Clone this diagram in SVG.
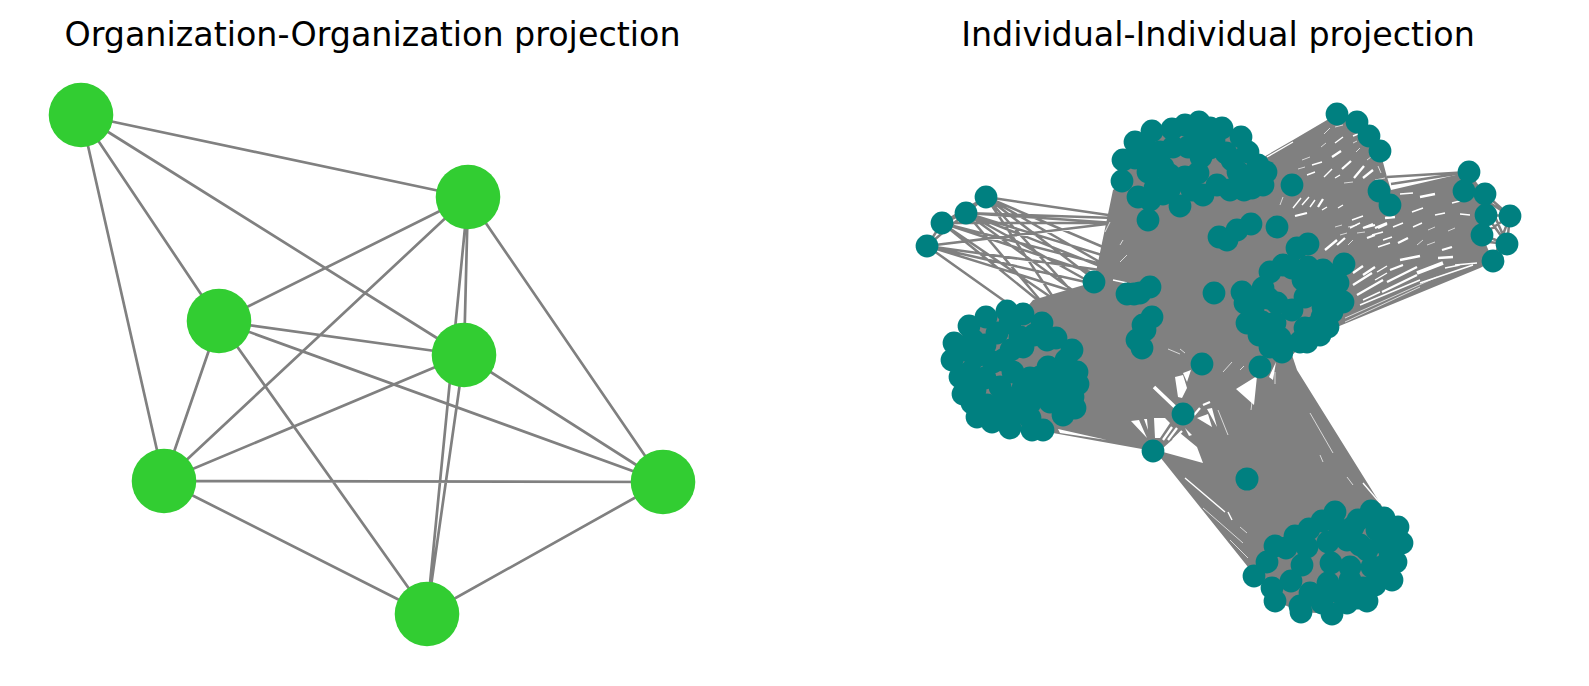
<svg xmlns="http://www.w3.org/2000/svg" width="1589" height="686" viewBox="0 0 1589 686">
<style>
text{font-family:"DejaVu Sans",sans-serif;font-size:33.33px;fill:#000;text-anchor:middle}
.e{stroke:#808080;fill:none}.l{stroke-width:2.7}.r{stroke-width:2.5}
.m{fill:#808080;stroke:none}
.h{fill:#fff;stroke:none}
.s{stroke:#fff;fill:none}.w1{stroke-width:.7}.w2{stroke-width:1.4}.w3{stroke-width:2.3}.w4{stroke-width:3.6}
.o{fill:#32cd32}.t{fill:#008080}
</style>
<rect width="1589" height="686" fill="#fff"/>
<text x="372.5" y="46">Organization-Organization projection</text>
<text x="1218" y="46">Individual-Individual projection</text>
<g id="connectors">
<path class="e l" d="M81 115L468 197M81 115L219 321M81 115L464 355M81 115L164 481M468 197L219 321M468 197L464 355M468 197L164 481M468 197L663 482M468 197L427 614M219 321L464 355M219 321L164 481M219 321L663 482M219 321L427 614M464 355L164 481M464 355L663 482M464 355L427 614M164 481L663 482M164 481L427 614M663 482L427 614"/>
<path class="m" d="M1123 181L1123 160L1135 142L1152 131L1172 129L1199 122L1222 128L1241 137L1248 152L1262 158L1293 140L1327 120L1337 114L1357 122L1369 136L1380 151L1387 177L1391 190L1460 174L1469 172L1485 194L1486 215L1482 235L1493 261L1480 268L1337 327L1328 327L1307 342L1292 355L1297 370L1383 508L1398 527L1402 543L1396 562L1392 580L1367 601L1347 603L1332 614L1301 612L1275 601L1272 588L1254 576L1248 567L1160 457L1153 451L1053 433L1032 430L1010 428L992 422L977 417L963 394L960 377L952 360L954 343L969 326L986 317L1007 311L1023 312L1033 300L1094 282L1097 267L1113 190Z"/>
<path class="e r" d="M986 197L1115 216M986 197L1110 250M986 197L1105 265M986 197L1095 280M986 197L1075 295M986 197L1055 300M966 213L1115 218M966 213L1115 223M966 213L1105 256M966 213L1100 266M966 213L1090 282M966 213L1075 292M966 213L1040 300M942 223L1115 223M942 223L1105 265M942 223L1090 272M942 223L1055 300M942 223L1040 302M927 246L1115 223M927 246L1100 270M927 246L1090 283M927 246L1075 292M927 246L1010 305M986 197L966 213L942 223L927 246M966 213L927 246M986 197L942 223M1387 177L1469 172M1391 184L1469 172M1486 215L1510 216M1485 194L1510 216M1482 235L1510 216M1510 216L1507 244M1486 215L1507 244M1482 235L1507 244M1493 261L1507 244M1485 194L1507 244M1493 261L1510 216M1470 190L1510 216M1470 240L1507 244"/>
<path class="s w1" d="M1335 127L1343 125M1321 147L1326 143M1302 160L1310 157M1298 169L1305 167M1324 134L1330 128M1353 143L1357 141M1367 160L1371 157M1356 152L1360 148M1378 166L1381 173M1386 165L1390 175M1375 180L1385 178M1280 205L1283 197M1344 183L1353 182M1218 410L1228 435M1168 349L1180 354M1180 349L1185 353M1223 372L1232 362M1240 370L1244 366M1252 402L1251 410M1275 372L1275 384M1340 235L1347 233M1357 233L1365 232M1335 227L1342 225M1348 227L1357 225M1348 245L1353 240M1417 245L1423 240M1427 245L1435 242M1428 230L1435 227M1448 231L1455 228M1203 508L1243 543M1230 540L1248 558M1310 413L1333 453M1320 455L1323 462M1347 477L1353 485M1240 527L1247 533M1105 232L1110 222M1120 245L1123 240M1120 262L1127 255"/>
<path class="s w2" d="M1267 157L1293 142M1335 143L1343 137M1312 165L1322 162M1307 175L1315 172M1324 177L1332 169M1335 178L1340 175M1353 136L1358 134M1293 208L1301 198M1302 205L1309 197M1310 207L1315 200M1322 210L1327 207M1338 208L1343 205M1352 220L1363 216M1372 235L1383 232M1400 194L1413 193M1452 203L1460 201M1412 212L1423 208M1435 215L1445 213M1460 214L1470 215M1350 228L1360 223M1393 227L1403 223M1413 227L1422 223M1383 240L1392 237M1378 247L1390 243M1455 265L1477 263M1377 272L1387 266M1375 280L1387 273M1363 300L1380 292M1445 268L1460 265M1360 305L1420 280M1420 283L1473 265M1185 478L1225 512M1228 512L1232 520M1363 483L1380 503M1113 280L1127 283"/>
<path class="s w1" d="M1345 318L1437 277M1345 322L1420 287"/>
<path class="s w3" d="M1332 157L1341 151M1342 169L1351 161M1354 178L1364 166M1363 178L1373 170M1295 216L1307 213M1318 207L1323 199M1363 228L1375 225M1378 228L1387 224M1420 197L1435 194M1385 218L1395 217M1363 228L1373 224M1375 228L1387 223M1337 245L1345 238M1367 238L1375 235M1398 243L1408 238M1442 250L1452 247M1325 250L1337 240M1400 260L1420 256M1438 258L1453 257M1353 273L1363 266M1363 275L1375 267M1390 270L1403 265M1353 285L1372 273M1387 282L1417 267M1357 295L1383 280M1382 292L1417 275M1194 415L1200 408M1203 405L1210 402M1163 440L1172 427M1168 440L1177 428M1173 440L1182 431"/>
<path class="s w4" d="M1417 273L1443 263M1154 387L1175 407"/>
<path class="h" d="M1163 448L1180 433L1197 447L1203 463L1163 452ZM1131 421L1139 420L1147 438ZM1144 419L1147 419L1148 430ZM1154 418L1165 418L1170 423L1160 438L1155 438ZM1175 377L1183 375L1187 388L1182 398L1178 397ZM1183 373L1191 370L1187 382ZM1197 418L1208 414L1212 427ZM1207 409L1212 408L1217 427ZM1185 428L1192 435L1189 436ZM1236 389L1257 376L1254 405ZM1269 377L1276 362L1273 380ZM1058 429L1107 440L1060 433Z"/>
</g>
<g id="org-nodes">
<g id="o1"><circle class="o" cx="81" cy="115" r="32.3"/></g>
<g id="o2"><circle class="o" cx="468" cy="197" r="32.3"/></g>
<g id="o3"><circle class="o" cx="219" cy="321" r="32.3"/></g>
<g id="o4"><circle class="o" cx="464" cy="355" r="32.3"/></g>
<g id="o5"><circle class="o" cx="164" cy="481" r="32.3"/></g>
<g id="o6"><circle class="o" cx="663" cy="482" r="32.3"/></g>
<g id="o7"><circle class="o" cx="427" cy="614" r="32.3"/></g>
</g>
<g id="ind-nodes">
<g id="a1"><circle class="t" cx="986" cy="197" r="11.4"/></g>
<g id="a2"><circle class="t" cx="966" cy="213" r="11.4"/></g>
<g id="a3"><circle class="t" cx="942" cy="223" r="11.4"/></g>
<g id="a4"><circle class="t" cx="927" cy="246" r="11.4"/></g>
<g id="a5"><circle class="t" cx="1094" cy="282" r="11.4"/></g>
<g id="b1"><circle class="t" cx="1199" cy="122" r="11.4"/></g>
<g id="b2"><circle class="t" cx="1222" cy="128" r="11.4"/></g>
<g id="b3"><circle class="t" cx="1172" cy="129" r="11.4"/></g>
<g id="b4"><circle class="t" cx="1152" cy="131" r="11.4"/></g>
<g id="b5"><circle class="t" cx="1135" cy="142" r="11.4"/></g>
<g id="b6"><circle class="t" cx="1123" cy="160" r="11.4"/></g>
<g id="b7"><circle class="t" cx="1122" cy="181" r="11.4"/></g>
<g id="b8"><circle class="t" cx="1138" cy="197" r="11.4"/></g>
<g id="b9"><circle class="t" cx="1180" cy="206" r="11.4"/></g>
<g id="b10"><circle class="t" cx="1148" cy="220" r="11.4"/></g>
<g id="b11"><circle class="t" cx="1163" cy="194" r="11.4"/></g>
<g id="b12"><circle class="t" cx="1203" cy="195" r="11.4"/></g>
<g id="b13"><circle class="t" cx="1217" cy="185" r="11.4"/></g>
<g id="b14"><circle class="t" cx="1196" cy="135" r="11.4"/></g>
<g id="b15"><circle class="t" cx="1173" cy="147" r="11.4"/></g>
<g id="b16"><circle class="t" cx="1188" cy="147" r="11.4"/></g>
<g id="b17"><circle class="t" cx="1201" cy="157" r="11.4"/></g>
<g id="b18"><circle class="t" cx="1163" cy="167" r="11.4"/></g>
<g id="b19"><circle class="t" cx="1147" cy="162" r="11.4"/></g>
<g id="b20"><circle class="t" cx="1148" cy="172" r="11.4"/></g>
<g id="b21"><circle class="t" cx="1185" cy="177" r="11.4"/></g>
<g id="b22"><circle class="t" cx="1198" cy="173" r="11.4"/></g>
<g id="b23"><circle class="t" cx="1155" cy="188" r="11.4"/></g>
<g id="b24"><circle class="t" cx="1170" cy="188" r="11.4"/></g>
<g id="b25"><circle class="t" cx="1226" cy="153" r="11.4"/></g>
<g id="b26"><circle class="t" cx="1241" cy="137" r="11.4"/></g>
<g id="b27"><circle class="t" cx="1248" cy="152" r="11.4"/></g>
<g id="b28"><circle class="t" cx="1241" cy="177" r="11.4"/></g>
<g id="b29"><circle class="t" cx="1266" cy="172" r="11.4"/></g>
<g id="b30"><circle class="t" cx="1244" cy="190" r="11.4"/></g>
<g id="b31"><circle class="t" cx="1263" cy="185" r="11.4"/></g>
<g id="b32"><circle class="t" cx="1292" cy="185" r="11.4"/></g>
<g id="b33"><circle class="t" cx="1253" cy="175" r="11.4"/></g>
<g id="b34"><circle class="t" cx="1238" cy="172" r="11.4"/></g>
<g id="b35"><circle class="t" cx="1214" cy="140" r="11.4"/></g>
<g id="b36"><circle class="t" cx="1135" cy="158" r="11.4"/></g>
<g id="b37"><circle class="t" cx="1160" cy="152" r="11.4"/></g>
<g id="b38"><circle class="t" cx="1145" cy="148" r="11.4"/></g>
<g id="b39"><circle class="t" cx="1170" cy="175" r="11.4"/></g>
<g id="b40"><circle class="t" cx="1210" cy="128" r="11.4"/></g>
<g id="b41"><circle class="t" cx="1185" cy="125" r="11.4"/></g>
<g id="b42"><circle class="t" cx="1210" cy="148" r="11.4"/></g>
<g id="b43"><circle class="t" cx="1232" cy="160" r="11.4"/></g>
<g id="b44"><circle class="t" cx="1192" cy="190" r="11.4"/></g>
<g id="b45"><circle class="t" cx="1230" cy="190" r="11.4"/></g>
<g id="b46"><circle class="t" cx="1258" cy="165" r="11.4"/></g>
<g id="b47"><circle class="t" cx="1150" cy="200" r="11.4"/></g>
<g id="b48"><circle class="t" cx="1252" cy="188" r="11.4"/></g>
<g id="c1"><circle class="t" cx="1337" cy="114" r="11.4"/></g>
<g id="c2"><circle class="t" cx="1357" cy="122" r="11.4"/></g>
<g id="c3"><circle class="t" cx="1369" cy="136" r="11.4"/></g>
<g id="c4"><circle class="t" cx="1380" cy="151" r="11.4"/></g>
<g id="c5"><circle class="t" cx="1379" cy="191" r="11.4"/></g>
<g id="c6"><circle class="t" cx="1390" cy="205" r="11.4"/></g>
<g id="d1"><circle class="t" cx="1469" cy="172" r="11.4"/></g>
<g id="d2"><circle class="t" cx="1464" cy="191" r="11.4"/></g>
<g id="d3"><circle class="t" cx="1485" cy="194" r="11.4"/></g>
<g id="d4"><circle class="t" cx="1486" cy="215" r="11.4"/></g>
<g id="d5"><circle class="t" cx="1510" cy="216" r="11.4"/></g>
<g id="d6"><circle class="t" cx="1482" cy="235" r="11.4"/></g>
<g id="d7"><circle class="t" cx="1507" cy="244" r="11.4"/></g>
<g id="d8"><circle class="t" cx="1493" cy="261" r="11.4"/></g>
<g id="e1"><circle class="t" cx="1277" cy="227" r="11.4"/></g>
<g id="e2"><circle class="t" cx="1251" cy="224" r="11.4"/></g>
<g id="e3"><circle class="t" cx="1237" cy="230" r="11.4"/></g>
<g id="e4"><circle class="t" cx="1227" cy="240" r="11.4"/></g>
<g id="e5"><circle class="t" cx="1219" cy="237" r="11.4"/></g>
<g id="e6"><circle class="t" cx="1150" cy="287" r="11.4"/></g>
<g id="e7"><circle class="t" cx="1140" cy="293" r="11.4"/></g>
<g id="e8"><circle class="t" cx="1134" cy="294" r="11.4"/></g>
<g id="e9"><circle class="t" cx="1127" cy="294" r="11.4"/></g>
<g id="e10"><circle class="t" cx="1152" cy="317" r="11.4"/></g>
<g id="e11"><circle class="t" cx="1143" cy="325" r="11.4"/></g>
<g id="e12"><circle class="t" cx="1145" cy="330" r="11.4"/></g>
<g id="e13"><circle class="t" cx="1137" cy="340" r="11.4"/></g>
<g id="e14"><circle class="t" cx="1142" cy="348" r="11.4"/></g>
<g id="e15"><circle class="t" cx="1202" cy="364" r="11.4"/></g>
<g id="e16"><circle class="t" cx="1183" cy="414" r="11.4"/></g>
<g id="e17"><circle class="t" cx="1153" cy="451" r="11.4"/></g>
<g id="e18"><circle class="t" cx="1247" cy="479" r="11.5"/></g>
<g id="e19"><circle class="t" cx="1214" cy="293" r="11.4"/></g>
<g id="f1"><circle class="t" cx="1308" cy="244" r="11.4"/></g>
<g id="f2"><circle class="t" cx="1297" cy="248" r="11.4"/></g>
<g id="f3"><circle class="t" cx="1344" cy="264" r="11.4"/></g>
<g id="f4"><circle class="t" cx="1270" cy="272" r="11.4"/></g>
<g id="f5"><circle class="t" cx="1292" cy="268" r="11.4"/></g>
<g id="f6"><circle class="t" cx="1308" cy="267" r="11.4"/></g>
<g id="f7"><circle class="t" cx="1323" cy="270" r="11.4"/></g>
<g id="f8"><circle class="t" cx="1338" cy="283" r="11.4"/></g>
<g id="f9"><circle class="t" cx="1343" cy="302" r="11.4"/></g>
<g id="f10"><circle class="t" cx="1328" cy="327" r="11.4"/></g>
<g id="f11"><circle class="t" cx="1307" cy="342" r="11.4"/></g>
<g id="f12"><circle class="t" cx="1282" cy="352" r="11.4"/></g>
<g id="f13"><circle class="t" cx="1260" cy="367" r="11.4"/></g>
<g id="f14"><circle class="t" cx="1259" cy="335" r="11.4"/></g>
<g id="f15"><circle class="t" cx="1247" cy="323" r="11.4"/></g>
<g id="f16"><circle class="t" cx="1245" cy="303" r="11.4"/></g>
<g id="f17"><circle class="t" cx="1242" cy="292" r="11.4"/></g>
<g id="f18"><circle class="t" cx="1263" cy="288" r="11.4"/></g>
<g id="f19"><circle class="t" cx="1253" cy="312" r="11.4"/></g>
<g id="f20"><circle class="t" cx="1277" cy="303" r="11.4"/></g>
<g id="f21"><circle class="t" cx="1275" cy="323" r="11.4"/></g>
<g id="f22"><circle class="t" cx="1280" cy="338" r="11.4"/></g>
<g id="f23"><circle class="t" cx="1300" cy="342" r="11.4"/></g>
<g id="f24"><circle class="t" cx="1305" cy="328" r="11.4"/></g>
<g id="f25"><circle class="t" cx="1323" cy="307" r="11.4"/></g>
<g id="f26"><circle class="t" cx="1305" cy="297" r="11.4"/></g>
<g id="f27"><circle class="t" cx="1317" cy="287" r="11.4"/></g>
<g id="f28"><circle class="t" cx="1327" cy="285" r="11.4"/></g>
<g id="f29"><circle class="t" cx="1303" cy="280" r="11.4"/></g>
<g id="f30"><circle class="t" cx="1333" cy="300" r="11.4"/></g>
<g id="f31"><circle class="t" cx="1322" cy="317" r="11.4"/></g>
<g id="f32"><circle class="t" cx="1292" cy="310" r="11.4"/></g>
<g id="f33"><circle class="t" cx="1268" cy="298" r="11.4"/></g>
<g id="f34"><circle class="t" cx="1262" cy="322" r="11.4"/></g>
<g id="f35"><circle class="t" cx="1270" cy="338" r="11.4"/></g>
<g id="f36"><circle class="t" cx="1320" cy="297" r="11.4"/></g>
<g id="f37"><circle class="t" cx="1332" cy="312" r="11.4"/></g>
<g id="f38"><circle class="t" cx="1315" cy="327" r="11.4"/></g>
<g id="f39"><circle class="t" cx="1270" cy="347" r="11.4"/></g>
<g id="f40"><circle class="t" cx="1320" cy="335" r="11.4"/></g>
<g id="f41"><circle class="t" cx="1335" cy="275" r="11.4"/></g>
<g id="f42"><circle class="t" cx="1283" cy="265" r="11.4"/></g>
<g id="f43"><circle class="t" cx="1258" cy="300" r="11.4"/></g>
<g id="g1"><circle class="t" cx="1007" cy="311" r="11.4"/></g>
<g id="g2"><circle class="t" cx="1023" cy="314" r="11.4"/></g>
<g id="g3"><circle class="t" cx="986" cy="317" r="11.4"/></g>
<g id="g4"><circle class="t" cx="1042" cy="323" r="11.4"/></g>
<g id="g5"><circle class="t" cx="969" cy="326" r="11.4"/></g>
<g id="g6"><circle class="t" cx="1056" cy="338" r="11.4"/></g>
<g id="g7"><circle class="t" cx="954" cy="343" r="11.4"/></g>
<g id="g8"><circle class="t" cx="1072" cy="350" r="11.4"/></g>
<g id="g9"><circle class="t" cx="952" cy="360" r="11.4"/></g>
<g id="g10"><circle class="t" cx="960" cy="377" r="11.4"/></g>
<g id="g11"><circle class="t" cx="963" cy="394" r="11.4"/></g>
<g id="g12"><circle class="t" cx="977" cy="417" r="11.4"/></g>
<g id="g13"><circle class="t" cx="992" cy="422" r="11.4"/></g>
<g id="g14"><circle class="t" cx="1010" cy="428" r="11.4"/></g>
<g id="g15"><circle class="t" cx="1032" cy="430" r="11.4"/></g>
<g id="g16"><circle class="t" cx="1043" cy="430" r="11.4"/></g>
<g id="g17"><circle class="t" cx="1063" cy="415" r="11.4"/></g>
<g id="g18"><circle class="t" cx="1075" cy="408" r="11.4"/></g>
<g id="g19"><circle class="t" cx="1073" cy="397" r="11.4"/></g>
<g id="g20"><circle class="t" cx="1078" cy="384" r="11.4"/></g>
<g id="g21"><circle class="t" cx="1077" cy="372" r="11.4"/></g>
<g id="g22"><circle class="t" cx="1063" cy="370" r="11.4"/></g>
<g id="g23"><circle class="t" cx="1048" cy="367" r="11.4"/></g>
<g id="g24"><circle class="t" cx="1040" cy="377" r="11.4"/></g>
<g id="g25"><circle class="t" cx="1062" cy="380" r="11.4"/></g>
<g id="g26"><circle class="t" cx="1062" cy="393" r="11.4"/></g>
<g id="g27"><circle class="t" cx="1043" cy="390" r="11.4"/></g>
<g id="g28"><circle class="t" cx="1023" cy="388" r="11.4"/></g>
<g id="g29"><circle class="t" cx="1000" cy="387" r="11.4"/></g>
<g id="g30"><circle class="t" cx="1013" cy="372" r="11.4"/></g>
<g id="g31"><circle class="t" cx="993" cy="362" r="11.4"/></g>
<g id="g32"><circle class="t" cx="985" cy="378" r="11.4"/></g>
<g id="g33"><circle class="t" cx="987" cy="405" r="11.4"/></g>
<g id="g34"><circle class="t" cx="1010" cy="407" r="11.4"/></g>
<g id="g35"><circle class="t" cx="1030" cy="403" r="11.4"/></g>
<g id="g36"><circle class="t" cx="1010" cy="417" r="11.4"/></g>
<g id="g37"><circle class="t" cx="1030" cy="418" r="11.4"/></g>
<g id="g38"><circle class="t" cx="1023" cy="347" r="11.4"/></g>
<g id="g39"><circle class="t" cx="1047" cy="340" r="11.4"/></g>
<g id="g40"><circle class="t" cx="1020" cy="337" r="11.4"/></g>
<g id="g41"><circle class="t" cx="997" cy="333" r="11.4"/></g>
<g id="g42"><circle class="t" cx="973" cy="340" r="11.4"/></g>
<g id="g43"><circle class="t" cx="975" cy="357" r="11.4"/></g>
<g id="g44"><circle class="t" cx="1010" cy="323" r="11.4"/></g>
<g id="g45"><circle class="t" cx="985" cy="345" r="11.4"/></g>
<g id="g46"><circle class="t" cx="1011" cy="350" r="11.4"/></g>
<g id="g47"><circle class="t" cx="1003" cy="360" r="11.4"/></g>
<g id="g48"><circle class="t" cx="1034" cy="335" r="11.4"/></g>
<g id="g49"><circle class="t" cx="970" cy="372" r="11.4"/></g>
<g id="g50"><circle class="t" cx="975" cy="390" r="11.4"/></g>
<g id="g51"><circle class="t" cx="972" cy="403" r="11.4"/></g>
<g id="g52"><circle class="t" cx="963" cy="350" r="11.4"/></g>
<g id="g53"><circle class="t" cx="1020" cy="400" r="11.4"/></g>
<g id="g54"><circle class="t" cx="1000" cy="415" r="11.4"/></g>
<g id="g55"><circle class="t" cx="1020" cy="412" r="11.4"/></g>
<g id="g56"><circle class="t" cx="1052" cy="378" r="11.4"/></g>
<g id="g57"><circle class="t" cx="1066" cy="360" r="11.4"/></g>
<g id="g58"><circle class="t" cx="1030" cy="378" r="11.4"/></g>
<g id="g59"><circle class="t" cx="1050" cy="402" r="11.4"/></g>
<g id="g60"><circle class="t" cx="1005" cy="396" r="11.4"/></g>
<g id="h1"><circle class="t" cx="1335" cy="512" r="11.4"/></g>
<g id="h2"><circle class="t" cx="1322" cy="521" r="11.4"/></g>
<g id="h3"><circle class="t" cx="1309" cy="529" r="11.4"/></g>
<g id="h4"><circle class="t" cx="1295" cy="536" r="11.4"/></g>
<g id="h5"><circle class="t" cx="1275" cy="546" r="11.4"/></g>
<g id="h6"><circle class="t" cx="1286" cy="548" r="11.4"/></g>
<g id="h7"><circle class="t" cx="1267" cy="562" r="11.4"/></g>
<g id="h8"><circle class="t" cx="1254" cy="576" r="11.4"/></g>
<g id="h9"><circle class="t" cx="1272" cy="588" r="11.4"/></g>
<g id="h10"><circle class="t" cx="1275" cy="601" r="11.4"/></g>
<g id="h11"><circle class="t" cx="1291" cy="581" r="11.4"/></g>
<g id="h12"><circle class="t" cx="1302" cy="565" r="11.4"/></g>
<g id="h13"><circle class="t" cx="1307" cy="547" r="11.4"/></g>
<g id="h14"><circle class="t" cx="1328" cy="542" r="11.4"/></g>
<g id="h15"><circle class="t" cx="1331" cy="563" r="11.4"/></g>
<g id="h16"><circle class="t" cx="1310" cy="593" r="11.4"/></g>
<g id="h17"><circle class="t" cx="1300" cy="606" r="11.4"/></g>
<g id="h18"><circle class="t" cx="1301" cy="612" r="11.4"/></g>
<g id="h19"><circle class="t" cx="1322" cy="603" r="11.4"/></g>
<g id="h20"><circle class="t" cx="1328" cy="583" r="11.4"/></g>
<g id="h21"><circle class="t" cx="1332" cy="614" r="11.4"/></g>
<g id="h22"><circle class="t" cx="1347" cy="603" r="11.4"/></g>
<g id="h23"><circle class="t" cx="1367" cy="601" r="11.4"/></g>
<g id="h24"><circle class="t" cx="1392" cy="580" r="11.4"/></g>
<g id="h25"><circle class="t" cx="1396" cy="562" r="11.4"/></g>
<g id="h26"><circle class="t" cx="1402" cy="543" r="11.4"/></g>
<g id="h27"><circle class="t" cx="1398" cy="527" r="11.4"/></g>
<g id="h28"><circle class="t" cx="1384" cy="518" r="11.4"/></g>
<g id="h29"><circle class="t" cx="1371" cy="511" r="11.4"/></g>
<g id="h30"><circle class="t" cx="1358" cy="520" r="11.4"/></g>
<g id="h31"><circle class="t" cx="1353" cy="527" r="11.4"/></g>
<g id="h32"><circle class="t" cx="1347" cy="540" r="11.4"/></g>
<g id="h33"><circle class="t" cx="1360" cy="545" r="11.4"/></g>
<g id="h34"><circle class="t" cx="1350" cy="567" r="11.4"/></g>
<g id="h35"><circle class="t" cx="1372" cy="567" r="11.4"/></g>
<g id="h36"><circle class="t" cx="1383" cy="543" r="11.4"/></g>
<g id="h37"><circle class="t" cx="1377" cy="530" r="11.4"/></g>
<g id="h38"><circle class="t" cx="1367" cy="550" r="11.4"/></g>
<g id="h39"><circle class="t" cx="1363" cy="588" r="11.4"/></g>
<g id="h40"><circle class="t" cx="1350" cy="580" r="11.4"/></g>
<g id="h41"><circle class="t" cx="1340" cy="593" r="11.4"/></g>
<g id="h42"><circle class="t" cx="1382" cy="567" r="11.4"/></g>
<g id="h43"><circle class="t" cx="1390" cy="557" r="11.4"/></g>
<g id="h44"><circle class="t" cx="1393" cy="533" r="11.4"/></g>
<g id="h45"><circle class="t" cx="1340" cy="530" r="11.4"/></g>
<g id="h46"><circle class="t" cx="1375" cy="585" r="11.4"/></g>
<g id="h47"><circle class="t" cx="1358" cy="598" r="11.4"/></g>
</g>
</svg>
